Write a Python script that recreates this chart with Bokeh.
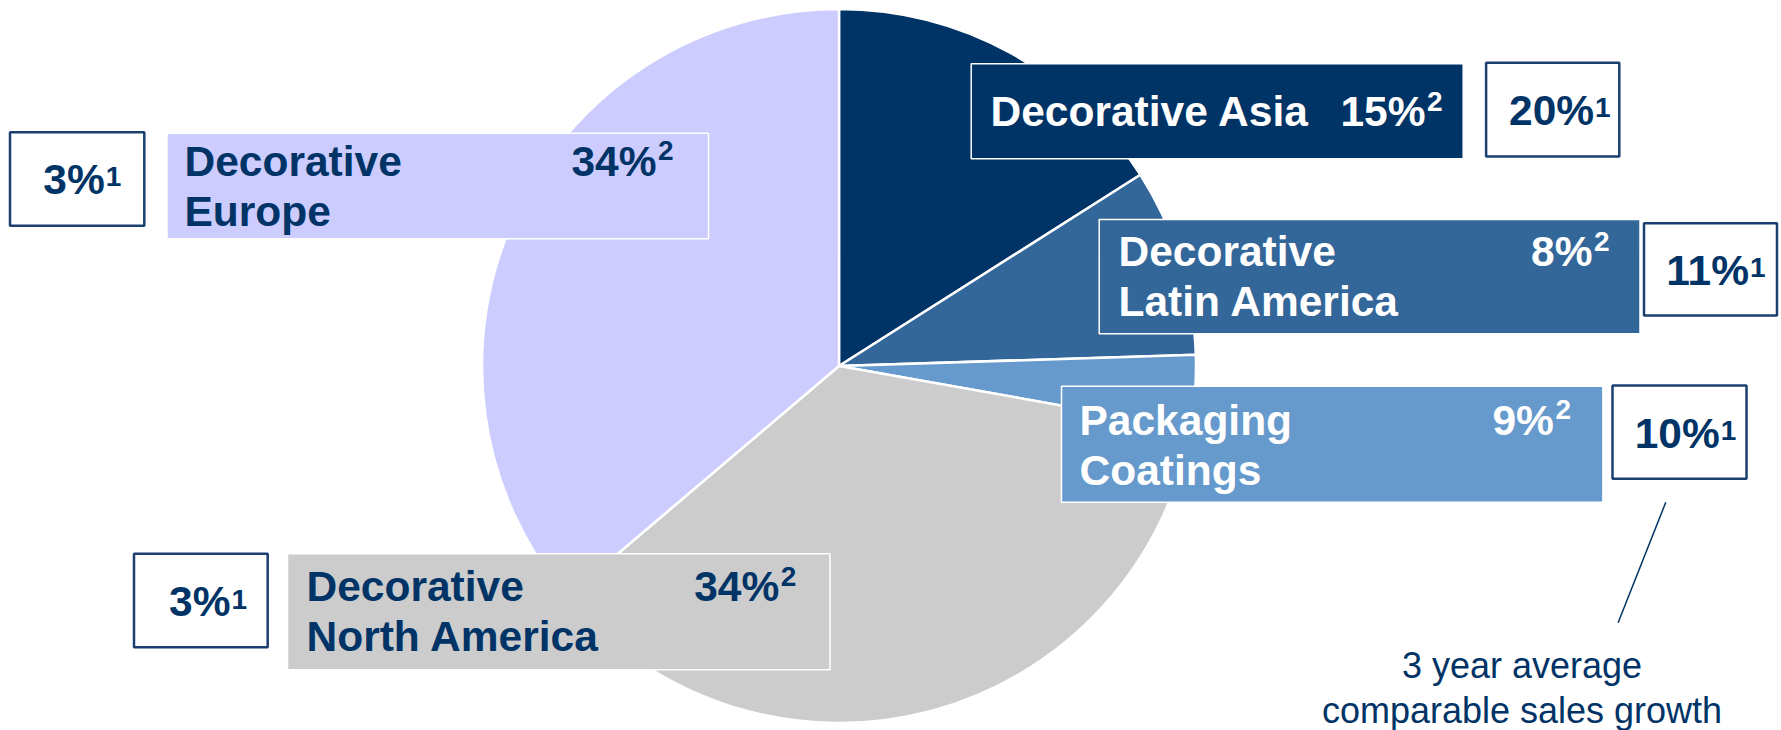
import numpy as np
from bokeh.plotting import figure
from bokeh.models import Range1d
from bokeh.embed import file_html
from bokeh.resources import INLINE
from bokeh.core.properties import value

# ---------------- data ----------------
segments = ["Decorative Asia", "Decorative Latin America", "Packaging Coatings",
            "Decorative North America", "Decorative Europe"]
label_lines = [["Decorative Asia"], ["Decorative", "Latin America"],
               ["Packaging", "Coatings"], ["Decorative", "North America"],
               ["Decorative", "Europe"]]
slice_size = [16.0, 8.5, 3.3, 36.0, 36.2]     # slice sizes as drawn in the pie (%)
sales_share = [15, 8, 9, 34, 34]              # labelled share, footnote 2
growth = [20, 11, 10, 3, 3]                   # 3-year avg comparable sales growth, footnote 1
note_lines = ["3 year average", "comparable sales growth"]

# ---------------- style ----------------
NAVY = "#003366"
colors = ["#003366", "#336699", "#6699CC", "#CCCCCC", "#CCCCFF"]
text_colors = ["white", "white", "white", NAVY, NAVY]
FONT = value("Liberation Sans")
BL = 0.36   # baseline correction (fraction of font size)

W, H = 1781, 730
def yu(Y):  # reference pixel row -> data y (up)
    return H - Y

def ty(Y, fs):  # text baseline row -> data y
    return H - Y + BL * fs

p = figure(width=W, height=H, x_range=Range1d(0, W), y_range=Range1d(0, H),
           output_backend="svg", toolbar_location=None, min_border=0,
           x_axis_location=None, y_axis_location=None)
p.grid.visible = False
p.outline_line_color = None
p.background_fill_color = "white"
p.border_fill_color = "white"

# ---------------- pie ----------------
cx, cy, R = 838.5, 365.5, 357
cum = np.concatenate([[0.0], np.cumsum(slice_size)]) / np.sum(slice_size)
starts = np.pi / 2 - cum[:-1] * 2 * np.pi
ends = np.pi / 2 - cum[1:] * 2 * np.pi
p.wedge(x=[cx] * len(segments), y=[yu(cy)] * len(segments), radius=R,
        start_angle=list(starts), end_angle=list(ends), direction="clock",
        fill_color=colors, line_color="white", line_width=2.5)

# ---------------- label boxes ----------------
boxes = [(970.7, 63.3, 1462.7, 158.3),
         (1098.7, 219.0, 1639.5, 333.3),
         (1061.0, 385.7, 1602.4, 501.7),
         (287.0, 553.3, 829.5, 669.3),
         (166.5, 132.7, 708.0, 238.3)]
name_x = [990, 1118, 1079, 306, 184]
base1 = [126.7, 266.7, 435.0, 601.7, 176.0]
line_gap = 50
pct_right = [1425.0, 1592.0, 1553.4, 778.8, 656.0]
FS, FS2, FS1, FSN = 42.5, 28, 28, 36

p.quad(left=[b[0] for b in boxes], right=[b[2] for b in boxes],
       top=[yu(b[1]) for b in boxes], bottom=[yu(b[3]) for b in boxes],
       fill_color=colors, line_color="white", line_width=1.5)

for i, lines in enumerate(label_lines):
    xs = [name_x[i]] * len(lines)
    ys = [ty(base1[i] + k * line_gap, FS) for k in range(len(lines))]
    p.text(x=xs, y=ys, text=lines, text_font=FONT, text_font_style="bold",
           text_font_size=f"{FS}px", text_color=text_colors[i],
           text_align="left", text_baseline="alphabetic")
    p.text(x=[pct_right[i]], y=[ty(base1[i], FS)], text=[f"{sales_share[i]}%"],
           text_font=FONT, text_font_style="bold", text_font_size=f"{FS}px",
           text_color=text_colors[i], text_align="right", text_baseline="alphabetic")
    p.text(x=[pct_right[i] + 1.5], y=[ty(base1[i] - 16, FS2)], text=["2"],
           text_font=FONT, text_font_style="bold", text_font_size=f"{FS2}px",
           text_color=text_colors[i], text_align="left", text_baseline="alphabetic")

# ---------------- growth boxes ----------------
gboxes = [(1485.6, 62.3, 1618.8, 156.0),
          (1643.5, 222.7, 1776.5, 315.0),
          (1612.0, 385.0, 1746.0, 478.3),
          (133.5, 553.3, 267.2, 646.7),
          (9.5, 131.8, 143.8, 225.3)]
g_right = [1593.6, 1748.5, 1719.3, 230.0, 104.3]
g_base = [125.0, 285.0, 448.3, 616.7, 194.5]

p.quad(left=[b[0] for b in gboxes], right=[b[2] for b in gboxes],
       top=[yu(b[1]) for b in gboxes], bottom=[yu(b[3]) for b in gboxes],
       fill_color="white", line_color="#1B3F6E", line_width=2.5)
p.text(x=g_right, y=[ty(v, FS) for v in g_base], text=[f"{g}%" for g in growth],
       text_font=FONT, text_font_style="bold", text_font_size=f"{FS}px",
       text_color=NAVY, text_align="right", text_baseline="alphabetic")
p.text(x=[v + 1.0 for v in g_right], y=[ty(v - 8, FS1) for v in g_base],
       text=["1"] * len(growth),
       text_font=FONT, text_font_style="bold", text_font_size=f"{FS1}px",
       text_color=NAVY, text_align="left", text_baseline="alphabetic")

# ---------------- note ----------------
p.line(x=[1665.3, 1617.6], y=[yu(501.7), yu(622.3)], line_color=NAVY, line_width=1.5)
p.text(x=[1521.5, 1521.5], y=[ty(678.0, FSN), ty(723.0, FSN)], text=note_lines,
       text_font=FONT, text_font_size=f"{FSN}px", text_color=NAVY,
       text_align="center", text_baseline="alphabetic")

open("out.html", "w").write(file_html(p, INLINE))
